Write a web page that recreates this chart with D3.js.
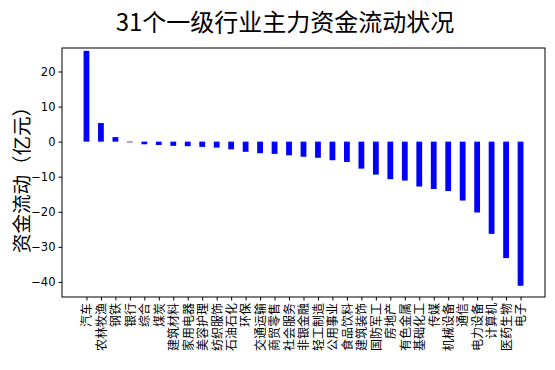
<!DOCTYPE html>
<html>
  <head>
    <meta charset="utf-8">
    <style>
      body { margin: 0; background: #fff; }
      text { font-family: "Noto Sans CJK SC", "DejaVu Sans", sans-serif; }
    </style>
  </head>
  <body>
    <script src="https://d3js.org/d3.v7.min.js"></script>
    <script>
      // industries, sorted by flow
      var industries = ["汽车", "农林牧渔", "钢铁", "银行", "综合", "煤炭", "建筑材料", "家用电器",
        "美容护理", "纺织服饰", "石油石化", "环保", "交通运输", "商贸零售", "社会服务", "非银金融",
        "轻工制造", "公用事业", "食品饮料", "建筑装饰", "国防军工", "房地产", "有色金属", "基础化工",
        "传媒", "机械设备", "通信", "电力设备", "计算机", "医药生物", "电子"];
      // 亿元
      var flows = [25.9, 5.3, 1.3, -0.2, -0.75, -0.95, -1.2, -1.3,
        -1.5, -1.7, -2.2, -2.9, -3.3, -3.5, -3.9, -4.3,
        -4.6, -5.3, -5.8, -7.7, -9.4, -10.7, -11.1, -12.8,
        -13.5, -14.1, -16.8, -20.2, -26.3, -33.2, -41.1];
      var yTicks = [20, 10, 0, -10, -20, -30, -40];

      var W = 555, H = 370;
      var plotL = 62, plotR = 545, plotT = 48, plotB = 297;

      var svg = d3.select("body").append("svg")
        .attr("width", W).attr("height", H);

      var x = d3.scaleLinear().domain([-1.69, 31.69]).range([plotL, plotR]);
      var y = d3.scaleLinear().domain([-44.3, 26.7]).range([plotB, plotT]);
      var bw = x(0.4) - x(0);

      // bars
      svg.append("g").selectAll("rect")
        .data(flows)
        .enter().append("rect")
        .attr("x", function(d, i){ return x(i) - bw / 2; })
        .attr("width", bw)
        .attr("y", function(d){ return y(Math.max(0, d)); })
        .attr("height", function(d){ return Math.max(0.6, Math.abs(y(d) - y(0))); })
        .attr("fill", "#0000ff");

      // y axis
      var yAxis = d3.axisLeft(y).tickValues(yTicks).tickSize(3.5).tickPadding(3)
        .tickFormat(function(d){ return d < 0 ? "\u2212" + Math.abs(d) : d; });
      var gy = svg.append("g").attr("transform", "translate(" + plotL + ",0)").call(yAxis);
      gy.select(".domain").remove();
      gy.selectAll("text").style("font-family", "'DejaVu Sans', sans-serif").style("font-size", "11.5px").attr("fill", "#000");

      // x axis
      var xAxis = d3.axisBottom(x).tickValues(d3.range(industries.length)).tickSize(3.5)
        .tickFormat(function(d){ return industries[d]; });
      var gx = svg.append("g").attr("transform", "translate(0," + plotB + ")").call(xAxis);
      gx.select(".domain").remove();
      gx.selectAll("text")
        .style("font-size", "12px")
        .attr("fill", "#000")
        .attr("text-anchor", "end")
        .attr("y", 0).attr("x", 0)
        .attr("dy", "0.36em")
        .attr("transform", "translate(0,6) rotate(-90)");

      // frame
      svg.append("rect")
        .attr("x", plotL).attr("y", plotT)
        .attr("width", plotR - plotL).attr("height", plotB - plotT)
        .attr("fill", "none").attr("stroke", "#000").attr("stroke-width", 1);

      // title
      svg.append("text")
        .attr("x", 285).attr("y", 31)
        .attr("text-anchor", "middle")
        .style("font-size", "24px")
        .text("31个一级行业主力资金流动状况");

      // y label
      svg.append("text")
        .attr("transform", "translate(29,175) rotate(-90)")
        .attr("text-anchor", "middle")
        .style("font-size", "19.5px")
        .text("资金流动（亿元）");
    </script>
  </body>
</html>
